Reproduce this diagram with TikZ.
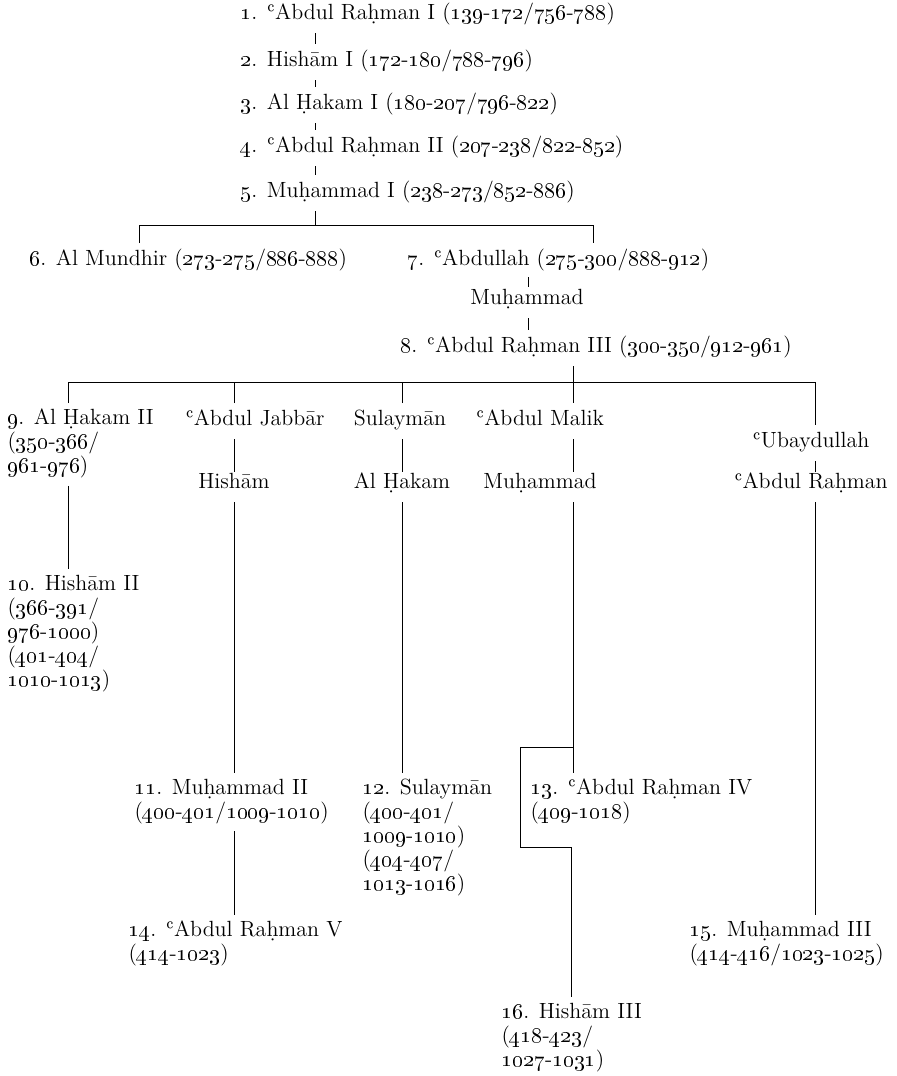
\documentclass[tikz,border=0pt]{standalone}
\usepackage{fontspec}
\usepackage{tikz}
\newfontfamily\aynfont{DejaVu Serif}
\makeatletter
\newcommand\os[1]{\os@#1\@nil}
\def\os@#1{\ifx#1\@nil\else\os@d{#1}\expandafter\os@\fi}
\def\os@d#1{\ifnum`#1>47 \ifnum`#1<58 {\fontencoding{TS1}\fontfamily{lmr}\selectfont#1}\else#1\fi\else#1\fi}
\makeatother
\newcommand\ayn{\iffontchar\font"02BF ʿ\else{\aynfont ʿ}\fi}
\tikzset{
  ruler/.style={anchor=north west, align=left, inner sep=0pt, outer ysep=3pt,
    font=\fontsize{11}{12}\selectfont,
    execute at begin node=\strut, execute at end node=\strut},
  kin/.style={ruler, anchor=north},
  reach/.style={shorten >=-3pt}
}
\begin{document}
\begin{tikzpicture}[x=0.5pt, y=-0.5pt, line width=0.5pt]
\useasboundingbox (0,0) rectangle (896,1076);
\node [ruler] (r1) at (240,-3) {\os{1}. \ayn Abdul Raḥman I (\os{139-172/756-788})};
\node [ruler] (r2) at (240,44) {\os{2}. Hishām I (\os{172-180/788-796})};
\node [ruler] (r3) at (240,87) {\os{3}. Al Ḥakam I (\os{180-207/796-822})};
\node [ruler] (r4) at (240,130) {\os{4}. \ayn Abdul Raḥman II (\os{207-238/822-852})};
\node [ruler] (r5) at (240,175) {\os{5}. Muḥammad I (\os{238-273/852-886})};
\node [ruler] (r6) at (29,243) {\os{6}. Al Mundhir (\os{273-275/886-888})};
\node [ruler] (r7) at (407,243) {\os{7}. \ayn Abdullah (\os{275-300/888-912})};
\node [kin] (m7) at (527,282) {Muḥammad};
\node [ruler] (r8) at (400,330) {\os{8}. \ayn Abdul Raḥman III (\os{300-350/912-961})};
\node [ruler] (r9) at (7,403) {\os{9}. Al Ḥakam II\\(\os{350-366/}\\\os{961-976})};
\node [kin] (abj) at (255,403) {\ayn Abdul Jabbār};
\node [kin] (sul) at (400,403) {Sulaymān};
\node [kin] (abm) at (540,403) {\ayn Abdul Malik};
\node [kin] (uba) at (811,425) {\ayn Ubaydullah};
\node [kin] (his) at (234,466) {Hishām};
\node [kin] (hak) at (402,466) {Al Ḥakam};
\node [kin] (muh) at (540,466) {Muḥammad};
\node [kin] (abr) at (811,466) {\ayn Abdul Raḥman};
\node [ruler] (r10) at (7,569) {\os{10}. Hishām II\\(\os{366-391/}\\\os{976-1000})\\(\os{401-404/}\\\os{1010-1013})};
\node [ruler] (r11) at (134,773) {\os{11}. Muḥammad II\\(\os{400-401/1009-1010})};
\node [ruler] (r12) at (362,773) {\os{12}. Sulaymān\\(\os{400-401/}\\\os{1009-1010})\\(\os{404-407/}\\\os{1013-1016})};
\node [ruler] (r13) at (530,773) {\os{13}. \ayn Abdul Raḥman IV\\(\os{409-1018})};
\node [ruler] (r14) at (128,915) {\os{14}. \ayn Abdul Raḥman V\\(\os{414-1023})};
\node [ruler] (r15) at (689,915) {\os{15}. Muḥammad III\\(\os{414-416/1023-1025})};
\node [ruler] (r16) at (501,997) {\os{16}. Hishām III\\(\os{418-423/}\\\os{1027-1031})};
\coordinate (cA) at (315,0);
\coordinate (f1) at (315,225);
\coordinate (f1l) at (139,225);
\coordinate (f1r) at (593,225);
\coordinate (cB) at (528,0);
\coordinate (f2) at (573,382);
\coordinate (f2l) at (68,382);
\coordinate (f2r) at (815,382);
\coordinate (cJ) at (234,382);
\coordinate (cS) at (402,382);
\coordinate (k1) at (573,747);
\coordinate (k2) at (520,847);
\coordinate (k3) at (571,847);
\foreach \a/\b in {r1/r2,r2/r3,r3/r4,r4/r5}
  \draw (\a.south -| cA) -- (\b.north -| cA);
\draw (r5.south -| f1) -- (f1);
\draw (r6.north -| f1l) -- (f1l) -- (f1r) -- (r7.north -| f1r);
\draw [shorten <=-1pt, shorten >=-2.5pt] (r7.south -| cB) -- (m7.north -| cB);
\draw (m7.south -| cB) -- (r8.north -| cB);
\draw (r8.south -| f2) -- (abm.north -| f2);
\draw (r9.north -| f2l) -- (f2l) -- (f2r) -- (uba.north -| f2r);
\draw (abj.north -| cJ) -- (cJ);
\draw (sul.north -| cS) -- (cS);
\draw [reach] (abj.south -| cJ) -- (his.north -| cJ);
\draw [reach] (sul.south -| cS) -- (hak.north -| cS);
\draw [reach] (abm.south -| f2) -- (muh.north -| f2);
\draw [reach] (uba.south -| f2r) -- (abr.north -| f2r);
\draw (r9.south -| f2l) -- (r10.north -| f2l);
\draw (his.south -| cJ) -- (r11.north -| cJ);
\draw (hak.south -| cS) -- (r12.north -| cS);
\draw (muh.south -| f2) -- (r13.north -| f2);
\draw (k1) -| (k2) -- (k3) -- (r16.north -| k3);
\draw (abr.south -| f2r) -- (r15.north -| f2r);
\draw (r11.south -| cJ) -- (r14.north -| cJ);
\end{tikzpicture}
\end{document}
